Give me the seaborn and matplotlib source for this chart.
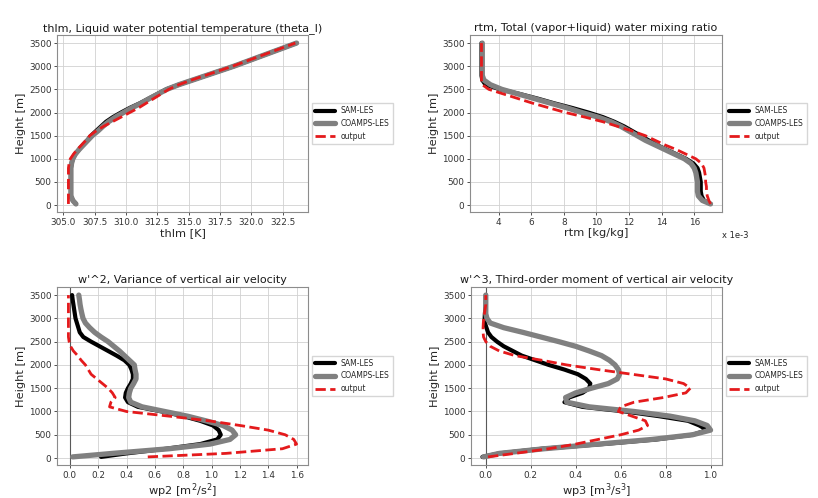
import numpy as np
import pandas as pd
import seaborn as sns
import matplotlib
matplotlib.use("Agg")
import matplotlib.pyplot as plt

# Heights [m]
z = [25, 100, 200, 300, 400, 500, 600, 700, 800, 900, 1000, 1100, 1200, 1300, 1400, 1500,
     1600, 1700, 1800, 1900, 2000, 2100, 2200, 2300, 2400, 2500, 2600, 2700, 2800, 2900,
     3000, 3100, 3200, 3300, 3400, 3500]

# thlm [K]
thlm_sam = [306.0, 305.75, 305.6, 305.6, 305.6, 305.6, 305.6, 305.6, 305.6, 305.65, 305.75, 305.95,
            306.25, 306.55, 306.9, 307.2, 307.6, 308.0, 308.4, 308.95, 309.6, 310.3, 311.1, 311.8,
            312.5, 313.2, 314.2, 315.3, 316.4, 317.5, 318.6, 319.6, 320.6, 321.6, 322.6, 323.6]
thlm_coamps = [306.0, 305.75, 305.6, 305.6, 305.6, 305.6, 305.6, 305.6, 305.6, 305.65, 305.75, 305.95,
               306.25, 306.6, 306.95, 307.3, 307.75, 308.15, 308.6, 309.15, 309.8, 310.45, 311.2, 311.85,
               312.55, 313.25, 314.2, 315.3, 316.4, 317.5, 318.6, 319.6, 320.6, 321.6, 322.6, 323.6]
thlm_out = [305.4, 305.4, 305.4, 305.4, 305.4, 305.4, 305.4, 305.4, 305.4, 305.45, 305.55, 305.8,
            306.1, 306.45, 306.8, 307.1, 307.6, 308.2, 308.9, 309.6, 310.3, 311.0, 311.6, 312.2,
            312.8, 313.4, 314.2, 315.2, 316.3, 317.4, 318.5, 319.5, 320.5, 321.5, 322.5, 323.5]

# rtm [g/kg] (shown as kg/kg x 1e-3)
rtm_sam = [17.0, 16.6, 16.45, 16.4, 16.4, 16.4, 16.35, 16.3, 16.2, 15.95, 15.5, 14.9, 14.3, 13.7,
           13.2, 12.7, 12.2, 11.7, 11.1, 10.4, 9.5, 8.5, 7.4, 6.4, 5.3, 4.1, 3.2, 3.0, 2.95, 2.95,
           2.95, 2.95, 2.95, 2.95, 2.95, 2.95]
rtm_coamps = [17.0, 16.5, 16.25, 16.2, 16.2, 16.2, 16.15, 16.1, 16.0, 15.8, 15.4, 14.8, 14.2, 13.6,
              13.0, 12.5, 12.0, 11.5, 10.9, 10.1, 9.1, 8.2, 7.2, 6.2, 5.2, 4.2, 3.5, 3.1, 3.0, 3.0,
              3.0, 3.0, 3.0, 3.0, 3.0, 3.0]
rtm_out = [17.0, 16.9, 16.8, 16.75, 16.75, 16.7, 16.7, 16.65, 16.6, 16.45, 16.1, 15.5, 14.9, 14.2,
           13.6, 13.0, 12.2, 11.3, 10.4, 9.3, 8.1, 7.1, 6.1, 5.2, 4.3, 3.4, 3.0, 2.95, 2.95, 2.95,
           2.95, 2.95, 2.95, 2.95, 2.95, 2.95]

# wp2 [m^2/s^2]
wp2_sam = [0.22, 0.40, 0.68, 0.92, 1.04, 1.065, 1.05, 1.01, 0.92, 0.80, 0.65, 0.48, 0.41, 0.39,
           0.395, 0.41, 0.43, 0.445, 0.445, 0.435, 0.42, 0.385, 0.33, 0.27, 0.21, 0.15, 0.095,
           0.07, 0.06, 0.05, 0.04, 0.035, 0.03, 0.025, 0.02, 0.016]
wp2_coamps = [0.02, 0.30, 0.70, 0.99, 1.13, 1.17, 1.145, 1.08, 0.96, 0.83, 0.67, 0.51, 0.43, 0.415,
              0.42, 0.43, 0.45, 0.467, 0.467, 0.46, 0.455, 0.42, 0.385, 0.35, 0.31, 0.27, 0.22,
              0.175, 0.14, 0.11, 0.093, 0.085, 0.078, 0.072, 0.068, 0.063]
wp2_out = [0.55, 1.1, 1.5, 1.6, 1.58, 1.52, 1.40, 1.20, 0.98, 0.70, 0.40, 0.28, 0.29, 0.32, 0.30,
           0.27, 0.23, 0.19, 0.15, 0.13, 0.11, 0.08, 0.055, 0.025, 0.005, -0.005, -0.01, -0.01,
           -0.01, -0.01, -0.01, -0.01, -0.01, -0.01, -0.01, -0.01]

# wp3 [m^3/s^3]
wp3_sam = [-0.015, 0.06, 0.25, 0.52, 0.76, 0.92, 0.985, 0.95, 0.90, 0.77, 0.62, 0.43, 0.35, 0.37,
           0.43, 0.46, 0.465, 0.445, 0.41, 0.35, 0.28, 0.22, 0.16, 0.12, 0.08, 0.05, 0.025, 0.01,
           0.003, -0.004, -0.005, -0.004, -0.002, 0.0, 0.0, 0.0]
wp3_coamps = [-0.01, 0.06, 0.26, 0.50, 0.74, 0.92, 1.0, 0.985, 0.93, 0.82, 0.66, 0.46, 0.36, 0.355,
              0.40, 0.47, 0.545, 0.585, 0.595, 0.59, 0.575, 0.55, 0.515, 0.46, 0.40, 0.325, 0.245,
              0.165, 0.08, 0.02, 0.005, 0.0, 0.0, 0.0, 0.0, 0.0]
wp3_out = [0.01, 0.13, 0.28, 0.40, 0.50, 0.60, 0.68, 0.72, 0.71, 0.65, 0.59, 0.60, 0.66, 0.79, 0.89,
           0.91, 0.88, 0.80, 0.65, 0.50, 0.36, 0.25, 0.13, 0.06, 0.02, 0.0, -0.01, -0.012, -0.012,
           -0.011, -0.009, -0.006, -0.003, 0.0, 0.0, 0.0]

panels = [
    ("thlm, Liquid water potential temperature (theta_l)", "thlm [K]",
     thlm_sam, thlm_coamps, thlm_out, False),
    ("rtm, Total (vapor+liquid) water mixing ratio", "rtm [kg/kg]",
     rtm_sam, rtm_coamps, rtm_out, False),
    ("w'^2, Variance of vertical air velocity", r"wp2 [$\mathrm{m^2/s^2}$]",
     wp2_sam, wp2_coamps, wp2_out, True),
    ("w'^3, Third-order moment of vertical air velocity", r"wp3 [$\mathrm{m^3/s^3}$]",
     wp3_sam, wp3_coamps, wp3_out, True),
]

sns.set_style("ticks", {"axes.grid": True, "grid.color": "0.82", "axes.edgecolor": "0.55",
                        "xtick.color": "0.2", "ytick.color": "0.2"})
plt.rcParams["font.family"] = ["DejaVu Sans"]

fig = plt.figure(figsize=(8.18, 4.98), dpi=100)
positions = [
    [0.0697, 0.5743, 0.3068, 0.3554],
    [0.5746, 0.5743, 0.3080, 0.3554],
    [0.0697, 0.0663, 0.3068, 0.3574],
    [0.5758, 0.0663, 0.3068, 0.3574],
]

for pos, (title, xlabel, sam, coamps, out, zero_line) in zip(positions, panels):
    ax = fig.add_axes(pos)
    df = pd.DataFrame({"z": z, "sam": sam, "coamps": coamps, "out": out})
    if zero_line:
        ax.axvline(0, color="0.35", lw=0.8, zorder=1)
    sns.lineplot(data=df, x="sam", y="z", orient="y", estimator=None, ax=ax,
                 color="black", lw=3.0, label="SAM-LES")
    sns.lineplot(data=df, x="coamps", y="z", orient="y", estimator=None, ax=ax,
                 color="gray", lw=3.8, label="COAMPS-LES")
    sns.lineplot(data=df, x="out", y="z", orient="y", estimator=None, ax=ax,
                 color="#e41a1c", lw=2.0, ls="--", label="output")
    ax.set_title(title, fontsize=8.0, pad=3, color="0.1")
    ax.set_xlabel(xlabel, fontsize=8.2, labelpad=1)
    ax.set_ylabel("Height [m]", fontsize=8.2, labelpad=2)
    ax.set_yticks(range(0, 3501, 500))
    ax.tick_params(labelsize=6.4, length=2.5, width=0.6, pad=1.5)
    ax.grid(True, color="0.82", lw=0.6)
    ax.legend(loc="center left", bbox_to_anchor=(1.0, 0.5), fontsize=5.5,
              handlelength=2.6, frameon=True, edgecolor="0.8", fancybox=False,
              borderpad=0.4, labelspacing=0.5)
    if xlabel.startswith("rtm"):
        ax.set_xticks([4, 6, 8, 10, 12, 14, 16])
        ax.text(1.0, -0.13, "x 1e-3", transform=ax.transAxes, ha="left", va="center",
                fontsize=6.0)
    if xlabel.startswith("wp3"):
        ax.set_xticks([0.0, 0.2, 0.4, 0.6, 0.8, 1.0])

fig.savefig("out.png", dpi=100)
